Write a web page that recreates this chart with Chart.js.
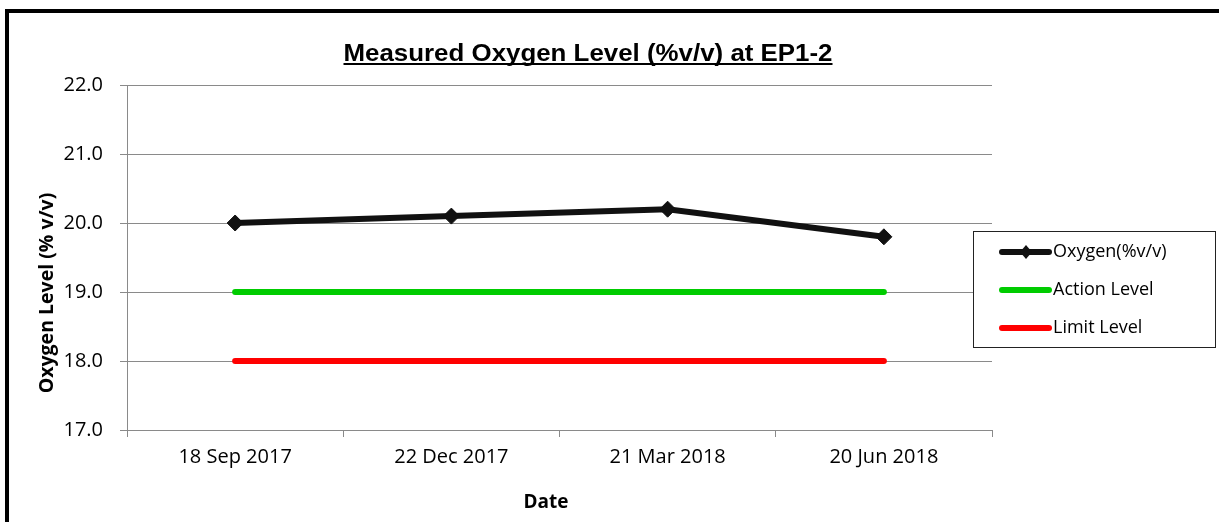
<!DOCTYPE html>
<html>
<head>
<meta charset="utf-8">
<script src="https://cdn.jsdelivr.net/npm/chart.js@4/dist/chart.umd.min.js"></script>
<style>
  html, body { margin: 0; padding: 0; background: #fff; }
  canvas { display: block; }
</style>
</head>
<body>
<canvas id="oxChart" width="1219" height="522"></canvas>
<script>
'use strict'

var dateLabels = ['18 Sep 2017', '22 Dec 2017', '21 Mar 2018', '20 Jun 2018'];
var oxygenValues = [20.0, 20.1, 20.2, 19.8];
var actionValues = [19.0, 19.0, 19.0, 19.0];
var limitValues = [18.0, 18.0, 18.0, 18.0];
var seriesNames = ['Oxygen(%v/v)', 'Action Level', 'Limit Level'];
var chartTitle = 'Measured Oxygen Level (%v/v) at EP1-2';
var xTitle = 'Date';
var yTitle = 'Oxygen Level (% v/v)';

var gridGrey = '#8a8a8a';
var tickFont = { family: 'Open Sans', size: 20 };

// frame, underlined title, axis titles and boxed legend, the way the spreadsheet draws them
var decorPlugin = {
    id: 'decor',
    afterDraw: function (chart) {
        var ctx = chart.ctx;
        ctx.save();

        // outer frame (top + left, rest is cut off)
        ctx.strokeStyle = '#000';
        ctx.lineWidth = 4;
        ctx.beginPath();
        ctx.moveTo(7, 530);
        ctx.lineTo(7, 11);
        ctx.lineTo(1230, 11);
        ctx.stroke();

        // title, stretched a bit wider like the original picture
        ctx.font = 'bold 23px "Liberation Sans"';
        ctx.fillStyle = '#000';
        ctx.textAlign = 'center';
        ctx.textBaseline = 'alphabetic';
        var w = ctx.measureText(chartTitle).width;
        var sx = 489 / w;
        ctx.save();
        ctx.translate(588, 61);
        ctx.scale(sx, 1);
        ctx.fillText(chartTitle, 0, 0);
        ctx.restore();
        ctx.fillRect(588 - 489 / 2, 63, 489, 2);

        // axis titles
        ctx.font = 'bold 19px "Open Sans"';
        ctx.textBaseline = 'middle';
        ctx.fillText(xTitle, 546, 503);
        ctx.save();
        ctx.translate(47, 293);
        ctx.rotate(-Math.PI / 2);
        ctx.font = 'bold 19.5px "Open Sans"';
        ctx.fillText(yTitle, 0, 0);
        ctx.restore();

        // legend box
        var bx = 973, by = 231, bw = 242, bh = 116;
        ctx.fillStyle = '#fff';
        ctx.fillRect(bx, by, bw, bh);
        ctx.strokeStyle = '#222';
        ctx.lineWidth = 1;
        ctx.strokeRect(bx + 0.5, by + 0.5, bw, bh);

        var rows = chart.data.datasets;
        ctx.font = '18px "Open Sans"';
        ctx.textAlign = 'left';
        ctx.textBaseline = 'middle';
        for (var i = 0; i < rows.length; i++) {
            var ry = 252 + i * 38;
            ctx.strokeStyle = rows[i].borderColor;
            ctx.lineWidth = 6;
            ctx.lineCap = 'round';
            ctx.beginPath();
            ctx.moveTo(1002, ry);
            ctx.lineTo(1049, ry);
            ctx.stroke();
            if (rows[i].pointRadius > 0) {
                ctx.fillStyle = rows[i].borderColor;
                ctx.beginPath();
                ctx.moveTo(1026, ry - 7);
                ctx.lineTo(1032, ry);
                ctx.lineTo(1026, ry + 7);
                ctx.lineTo(1020, ry);
                ctx.closePath();
                ctx.fill();
            }
            ctx.fillStyle = '#000';
            ctx.fillText(rows[i].label, 1053, ry);
        }
        ctx.restore();
    }
};

var chartConfig = {
    type: 'line',
    data: {
        labels: dateLabels,
        datasets: [{
            label: seriesNames[0],
            data: oxygenValues,
            borderColor: '#111111',
            backgroundColor: '#111111',
            borderWidth: 6,
            borderCapStyle: 'round',
            pointStyle: 'rectRot',
            pointRadius: 8,
            pointBorderWidth: 1,
            fill: false,
        }, {
            label: seriesNames[1],
            data: actionValues,
            borderColor: '#00cc00',
            backgroundColor: '#00cc00',
            borderWidth: 6,
            borderCapStyle: 'round',
            pointRadius: 0,
            fill: false,
        }, {
            label: seriesNames[2],
            data: limitValues,
            borderColor: '#ff0000',
            backgroundColor: '#ff0000',
            borderWidth: 6,
            borderCapStyle: 'round',
            pointRadius: 0,
            fill: false,
        }]
    },
    options: {
        responsive: false,
        animation: false,
        layout: {
            padding: { left: 30, right: 227, top: 85, bottom: 5 }
        },
        plugins: {
            legend: { display: false },
            title: { display: false },
            tooltip: { enabled: false }
        },
        scales: {
            x: {
                type: 'category',
                offset: true,
                grid: {
                    offset: true,
                    drawOnChartArea: false,
                    drawTicks: true,
                    tickLength: 7,
                    color: gridGrey,
                },
                border: { color: gridGrey, width: 1 },
                ticks: {
                    color: '#000',
                    font: tickFont,
                    padding: 8,
                    maxRotation: 0,
                },
                afterFit: function (scale) { scale.height = 87; }
            },
            y: {
                min: 17,
                max: 22,
                grid: {
                    color: gridGrey,
                    tickLength: 7,
                },
                border: { color: gridGrey, width: 1 },
                ticks: {
                    stepSize: 1,
                    color: '#000',
                    font: tickFont,
                    padding: 17,
                    callback: function (v) { return Number(v).toFixed(1); }
                },
                afterFit: function (scale) { scale.width = 97; }
            }
        }
    },
    plugins: [decorPlugin]
};

var oxChart = new Chart(document.getElementById('oxChart'), chartConfig);
</script>
</body>
</html>
